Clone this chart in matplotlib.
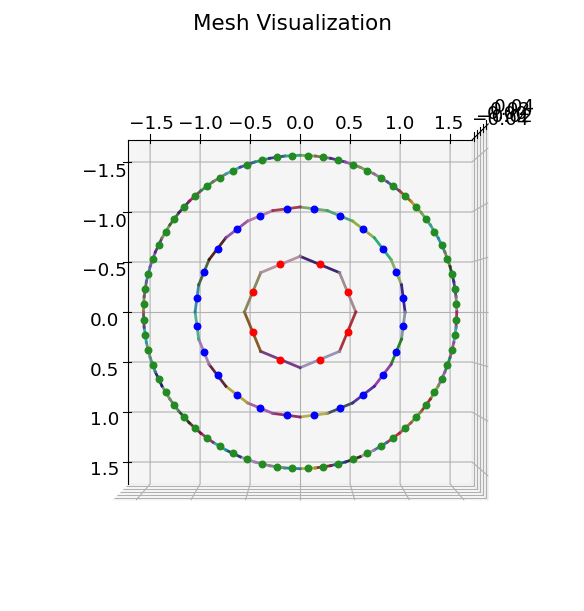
import numpy as np
import matplotlib
matplotlib.use('Agg')
import matplotlib.pyplot as plt

# Ring vertices, read clockwise from the top of the picture (degrees from top)
inner_r = 0.533
inner_angles = [0, 45, 90, 135, 180, 225, 270, 315]
inner_colors = ['#2a1060', '#9a8088', '#a0202a', '#9088b0', '#6a2a7a', '#7a4a10', '#807a50', '#b08898']

middle_r = 1.005
middle_angles = [0, 15, 30, 45, 60, 75, 90, 105, 120, 135, 150, 165,
                 180, 195, 210, 225, 240, 255, 270, 285, 300, 315, 330, 345]
middle_colors = ['#6aa060', '#40a070', '#8aa830', '#10a870', '#7aaa50', '#2a1080',
                 '#7a8a9a', '#107a10', '#8a2aa0', '#4a1a9a', '#304050', '#b0a840',
                 '#8a1a60', '#9a50a0', '#b09a30', '#50102a', '#a070b0', '#40a880',
                 '#2080a0', '#3a5a30', '#40100a', '#8a40a8', '#b070a0', '#a02a40']

outer_r = 1.5
outer_angles = [0, 5.625, 11.25, 16.875, 22.5, 28.125, 33.75, 39.375,
                45, 50.625, 56.25, 61.875, 67.5, 73.125, 78.75, 84.375,
                90, 95.625, 101.25, 106.875, 112.5, 118.125, 123.75, 129.375,
                135, 140.625, 146.25, 151.875, 157.5, 163.125, 168.75, 174.375,
                180, 185.625, 191.25, 196.875, 202.5, 208.125, 213.75, 219.375,
                225, 230.625, 236.25, 241.875, 247.5, 253.125, 258.75, 264.375,
                270, 275.625, 281.25, 286.875, 292.5, 298.125, 303.75, 309.375,
                315, 320.625, 326.25, 331.875, 337.5, 343.125, 348.75, 354.375]
outer_colors = ['#8a9a30', '#6a6a50', '#4b1a8a', '#8a5a9a', '#6a9a40', '#8a6a90', '#3a4a90', '#a03a1a',
                '#b0901a', '#5aa060', '#309a90', '#2080b0', '#707a40', '#103a20', '#3a2a9a', '#8a7a6a',
                '#a01a60', '#30a0b0', '#b03a90', '#1a7a50', '#9a50b0', '#6aa030', '#a01a30', '#6a8a30',
                '#b04a4a', '#c01a2a', '#2070a0', '#b080a0', '#2a1a10', '#104090', '#7a1a20', '#b0a020',
                '#20709a', '#5a8a70', '#9a70a0', '#a080b0', '#103060', '#10a0a0', '#a01a70', '#701030',
                '#103a10', '#5a7a5a', '#708a60', '#10107a', '#308a80', '#708070', '#10a0b0', '#6a2a70',
                '#8a7a30', '#6a4a6a', '#3a6ab0', '#7a4a9a', '#5a1a80', '#7a8a50', '#3a5a20', '#3a1a6a',
                '#a01a50', '#208a4a', '#7a6a5a', '#30a0b0', '#3a3aa0', '#208a70', '#3a2a80', '#209a80']

rings = [(inner_r, inner_angles, inner_colors, 'red'),
         (middle_r, middle_angles, middle_colors, 'blue'),
         (outer_r, outer_angles, outer_colors, '#228b22')]

tick_values = [-1.5, -1.0, -0.5, 0.0, 0.5, 1.0, 1.5]
z_ticks = [-0.04, -0.02, 0.0, 0.02, 0.04]

fig = plt.figure(figsize=(5.84, 6.11), dpi=100)
ax = fig.add_axes([0.0227, 0.0200, 0.9565, 0.914], projection='3d')

for r, angles, colors, node_color in rings:
    t = np.deg2rad(angles)
    # at this view the screen's horizontal axis is y and its vertical axis is x (negative on top)
    y = r * np.sin(t)
    x = -r * np.cos(t)
    n = len(angles)
    for i in range(n):
        j = (i + 1) % n
        ax.plot([x[i], x[j]], [y[i], y[j]], [0, 0], color=colors[i], lw=2, alpha=0.9)
    for i in range(n):
        j = (i + 1) % n
        ax.scatter((x[i] + x[j]) / 2, (y[i] + y[j]) / 2, 0, color=node_color, s=22,
                   depthshade=False, zorder=5)

ax.set_xlim(-1.72, 1.72)
ax.set_ylim(-1.72, 1.72)
ax.set_zlim(-0.055, 0.055)
ax.set_xticks(tick_values)
ax.set_yticks(tick_values)
ax.set_zticks(z_ticks)
ax.tick_params(labelsize=13.3)
ax.tick_params(axis='x', pad=7)
ax.tick_params(axis='y', pad=8)
ax.tick_params(axis='z', pad=8)
ax.view_init(elev=90, azim=0)
ax.set_title('Mesh Visualization', fontsize=15.5, y=1.108, pad=0)
fig.savefig('out.png', dpi=100)
